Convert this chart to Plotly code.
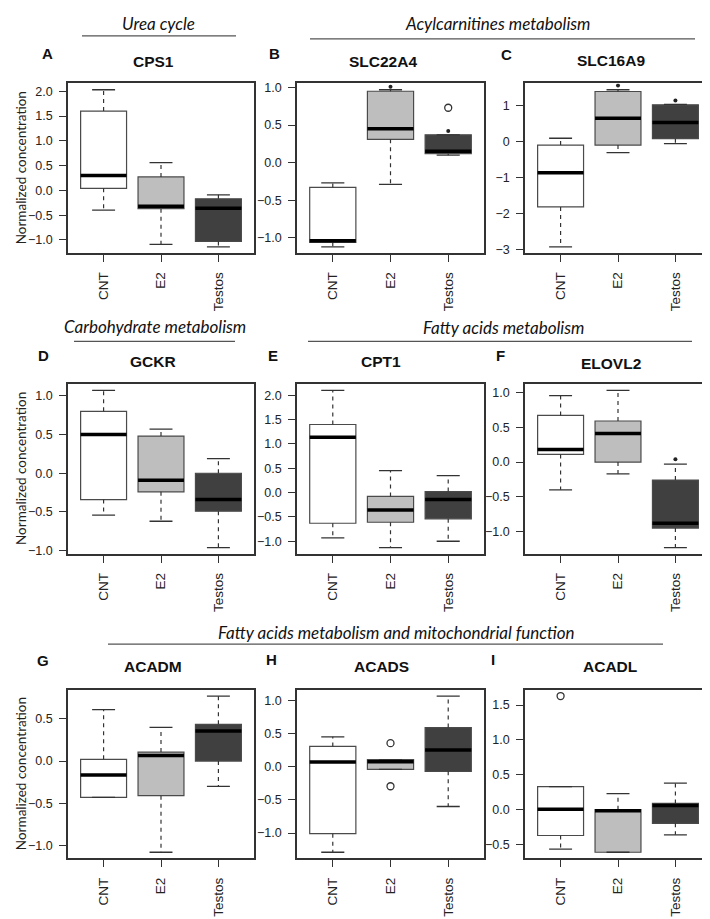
import plotly.graph_objects as go

# ---------------- data ----------------
groups = ["CNT", "E2", "Testos"]
genes = ["CPS1", "SLC22A4", "SLC16A9", "GCKR", "CPT1", "ELOVL2", "ACADM", "ACADS", "ACADL"]
letters = ["A", "B", "C", "D", "E", "F", "G", "H", "I"]

# per gene, values for [CNT, E2, Testos]
lower_whisker = [
    [-0.40, -1.09, -1.14],
    [-1.12, -0.29, 0.10],
    [-2.93, -0.31, -0.06],
    [-0.54, -0.62, -0.96],
    [-0.93, -1.13, -1.00],
    [-0.40, -0.17, -1.23],
    [-0.43, -1.08, -0.30],
    [-1.29, -0.04, -0.60],
    [-0.565, -0.61, -0.36],
]
quart1 = [
    [0.04, -0.37, -1.03],
    [-1.06, 0.31, 0.12],
    [-1.82, -0.10, 0.08],
    [-0.34, -0.24, -0.49],
    [-0.63, -0.61, -0.54],
    [0.11, 0.00, -0.95],
    [-0.43, -0.41, 0.00],
    [-1.01, -0.04, -0.07],
    [-0.37, -0.61, -0.195],
]
medians = [
    [0.30, -0.32, -0.36],
    [-1.04, 0.45, 0.15],
    [-0.87, 0.65, 0.53],
    [0.50, -0.09, -0.34],
    [1.14, -0.36, -0.14],
    [0.18, 0.41, -0.88],
    [-0.165, 0.067, 0.357],
    [0.07, 0.075, 0.25],
    [0.005, -0.015, 0.06],
]
quart3 = [
    [1.60, 0.27, -0.17],
    [-0.33, 0.95, 0.37],
    [-0.10, 1.39, 1.02],
    [0.80, 0.48, 0.00],
    [1.40, -0.08, 0.02],
    [0.67, 0.59, -0.26],
    [0.02, 0.106, 0.435],
    [0.305, 0.105, 0.59],
    [0.33, 0.00, 0.09],
]
upper_whisker = [
    [2.03, 0.56, -0.09],
    [-0.27, 0.97, 0.37],
    [0.09, 1.44, 1.03],
    [1.07, 0.57, 0.19],
    [2.10, 0.45, 0.35],
    [0.955, 1.03, -0.03],
    [0.61, 0.40, 0.77],
    [0.45, 0.105, 1.065],
    [0.33, 0.23, 0.38],
]
# open-circle outliers, per gene per group
outliers = [
    [[], [], []],
    [[], [], [0.73]],
    [[], [], []],
    [[], [], []],
    [[], [], []],
    [[], [], []],
    [[], [], []],
    [[], [0.355, -0.295], []],
    [[1.63], [], []],
]
# small filled marks drawn above some boxes
marks = [
    [[], [], []],
    [[], [1.01], [0.42]],
    [[], [1.56], [1.14]],
    [[], [], []],
    [[], [], []],
    [[], [], [0.04]],
    [[], [], []],
    [[], [], []],
    [[], [], []],
]
tick_step = [0.5, 0.5, 1, 0.5, 0.5, 0.5, 0.5, 0.5, 0.5]
tick_fmt = [".1f", ".1f", "d", ".1f", ".1f", ".1f", ".1f", ".1f", ".1f"]

headers = ["Urea cycle", "Acylcarnitines metabolism", "Carbohydrate metabolism",
           "Fatty acids metabolism", "Fatty acids metabolism and mitochondrial function"]
ytitle = "Normalized concentration"

# ---------------- styling / layout ----------------
W, H = 710, 919
fills = ["#ffffff", "#bebebe", "#404040"]
edge = "#4a4a4a"
col_lr = [(60, 246), (289, 476), (517, 703)]
row_tb = [(73, 244), (376, 547), (684, 854)]
positions = [1, 2, 3]

def px(x):
    return x / W

def py(y):
    return 1 - y / H

fig = go.Figure()
layout = dict(width=W, height=H, margin=dict(l=0, r=0, t=0, b=0),
              paper_bgcolor="white", plot_bgcolor="white", showlegend=False,
              annotations=[], shapes=[])

ytick_font = dict(family="Liberation Sans, Arial", size=12.5, color="#222222")
xtick_font = dict(family="Liberation Sans, Arial", size=13.5, color="#222222")

for k in range(9):
    r, c = divmod(k, 3)
    xa = "x" if k == 0 else f"x{k+1}"
    ya = "y" if k == 0 else f"y{k+1}"
    for g in range(3):
        pos = positions[g]
        lw, q1, md, q3, uw = (lower_whisker[k][g], quart1[k][g], medians[k][g],
                              quart3[k][g], upper_whisker[k][g])
        fig.add_trace(go.Box(
            x=[pos], q1=[q1], median=[md], q3=[q3], lowerfence=[q1], upperfence=[q3],
            width=0.8, fillcolor=fills[g], line=dict(color=edge, width=1.2),
            whiskerwidth=0, boxpoints=False, hoverinfo="skip", xaxis=xa, yaxis=ya))
        # dashed whiskers
        fig.add_trace(go.Scatter(
            x=[pos, pos, None, pos, pos], y=[q3, uw, None, q1, lw], mode="lines",
            line=dict(color="#333333", width=1.2, dash="4px,4px"),
            hoverinfo="skip", xaxis=xa, yaxis=ya))
        # caps
        fig.add_trace(go.Scatter(
            x=[pos - 0.2, pos + 0.2, None, pos - 0.2, pos + 0.2],
            y=[uw, uw, None, lw, lw], mode="lines",
            line=dict(color="#333333", width=1.3), hoverinfo="skip", xaxis=xa, yaxis=ya))
        # thick median
        fig.add_trace(go.Scatter(
            x=[pos - 0.4, pos + 0.4], y=[md, md], mode="lines",
            line=dict(color="black", width=3.5), hoverinfo="skip", xaxis=xa, yaxis=ya))
        if outliers[k][g]:
            fig.add_trace(go.Scatter(
                x=[pos] * len(outliers[k][g]), y=outliers[k][g], mode="markers",
                marker=dict(symbol="circle-open", size=7, color="#333333",
                            line=dict(width=1.3, color="#333333")),
                hoverinfo="skip", xaxis=xa, yaxis=ya))
        if marks[k][g]:
            fig.add_trace(go.Scatter(
                x=[pos] * len(marks[k][g]), y=marks[k][g], mode="markers",
                marker=dict(symbol="circle", size=4, color="#222222"),
                hoverinfo="skip", xaxis=xa, yaxis=ya))

    vals = lower_whisker[k] + upper_whisker[k] + [v for o in outliers[k] for v in o]
    lo, hi = min(vals), max(vals)
    pad = 0.04 * (hi - lo)
    x0, x1 = col_lr[c]
    t0, t1 = row_tb[r]
    xkey = "xaxis" if k == 0 else f"xaxis{k+1}"
    ykey = "yaxis" if k == 0 else f"yaxis{k+1}"
    layout[xkey] = dict(domain=[px(x0), px(x1)], range=[0.38, 3.62], anchor=ya,
                        tickvals=positions, ticktext=groups, tickangle=-90,
                        ticks="outside", ticklen=7, tickwidth=1.3, tickcolor="#333333",
                        showline=True, mirror=True, linecolor="#333333", linewidth=1.5,
                        showgrid=False, zeroline=False, tickfont=xtick_font,
                        ticklabelstandoff=5, fixedrange=True)
    layout[ykey] = dict(domain=[py(t1), py(t0)], range=[lo - pad, hi + pad], anchor=xa,
                        dtick=tick_step[k], tickformat=tick_fmt[k],
                        ticks="outside", ticklen=7, tickwidth=1.3, tickcolor="#333333",
                        showline=True, mirror=True, linecolor="#333333", linewidth=1.5,
                        showgrid=False, zeroline=False, tickfont=ytick_font,
                        ticklabelstandoff=4, fixedrange=True)

# panel letters and gene titles
letter_pos = [(39, 43), (266, 43), (499, 44), (35, 347), (265, 347), (492, 347),
              (35, 654), (263, 653), (485, 653)]
title_pos = [(145, 51), (375, 51), (603, 50), (145, 353), (373, 353), (603, 355),
             (145, 661), (373, 661), (602, 661)]
for k in range(9):
    lx, ly = letter_pos[k]
    layout["annotations"].append(dict(
        text=f"<b>{letters[k]}</b>", x=px(lx), y=py(ly), xref="paper", yref="paper",
        showarrow=False, xanchor="center", yanchor="middle",
        font=dict(family="Liberation Sans, Arial", size=15, color="#111111")))
    tx, ty = title_pos[k]
    layout["annotations"].append(dict(
        text=f"<b>{genes[k]}</b>", x=px(tx), y=py(ty), xref="paper", yref="paper",
        showarrow=False, xanchor="center", yanchor="middle",
        font=dict(family="Liberation Sans, Arial", size=15.5, color="#111111")))

# section headers with underline
header_text_pos = [(150, 13), (490, 13), (147, 318), (496, 319), (388, 626)]
header_lines = [(74, 228, 25), (302, 687, 28), (66, 227, 333), (300, 684, 333), (100, 655, 638)]
for i, h in enumerate(headers):
    hx, hy = header_text_pos[i]
    layout["annotations"].append(dict(
        text=f"<i>{h}</i>", x=px(hx), y=py(hy), xref="paper", yref="paper",
        showarrow=False, xanchor="center", yanchor="middle",
        font=dict(family="Lato, Open Sans", size=17, color="#111111")))
    a, b, yy = header_lines[i]
    layout["shapes"].append(dict(type="line", xref="paper", yref="paper",
                                 x0=px(a), x1=px(b), y0=py(yy), y1=py(yy),
                                 line=dict(color="#555555", width=1.3)))

# y-axis titles for left column
for r in range(3):
    t0, t1 = row_tb[r]
    layout["annotations"].append(dict(
        text=ytitle, x=px(13), y=py((t0 + t1) / 2), xref="paper", yref="paper",
        showarrow=False, xanchor="center", yanchor="middle", textangle=-90,
        font=dict(family="Lato, Open Sans", size=13.5, color="#222222")))

fig.update_layout(**layout)
fig.write_html("out.html")
